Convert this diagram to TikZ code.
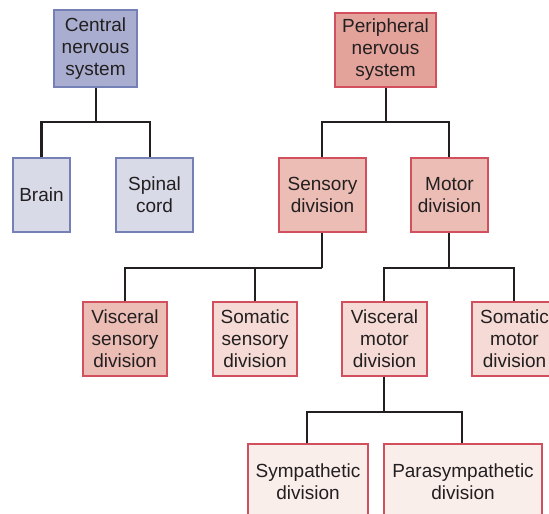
\documentclass[tikz,border=0pt]{standalone}
\usepackage{fontspec}
\setmainfont{Liberation Sans}
\definecolor{txt}{HTML}{231F20}
\definecolor{cnsfill}{HTML}{A9AED0}
\definecolor{cnsline}{HTML}{7580B6}
\definecolor{cnsfilltwo}{HTML}{D8DAE8}
\definecolor{pnsfill}{HTML}{E3A39B}
\definecolor{pnsline}{HTML}{D24F5E}
\definecolor{pfilltwo}{HTML}{EBBDB5}
\definecolor{pfillthree}{HTML}{F5DAD5}
\definecolor{pfillfour}{HTML}{FAEEEB}
\begin{document}
\begin{tikzpicture}[x=1pt,y=-1pt,
  box/.style={draw, line width=1.4pt, rectangle, inner sep=0pt, align=center,
    font=\fontsize{19}{22}\selectfont, text=txt},
  cbox/.style={box, draw=cnsline},
  pbox/.style={box, draw=pnsline},
  link/.style={draw=txt, line width=2.6pt, line cap=butt, line join=miter}]
\useasboundingbox (0,0) rectangle (549,514);
\begin{scope}
\clip (0,0) rectangle (549,514);
% CNS
\node[cbox, fill=cnsfill, minimum width=83pt, minimum height=77pt] (cns) at (95.5,48.5) {Central\\nervous\\system};
\node[cbox, fill=cnsfilltwo, minimum width=57pt, minimum height=74pt] (brain) at (41.5,195) {Brain};
\node[cbox, fill=cnsfilltwo, minimum width=77pt, minimum height=74pt] (spinal) at (154.5,195) {Spinal\\cord};
% PNS
\node[pbox, fill=pnsfill, minimum width=101pt, minimum height=74pt] (pns) at (385.5,50) {Peripheral\\nervous\\system};
\node[pbox, fill=pfilltwo, minimum width=87pt, minimum height=74pt] (sens) at (322.5,195) {Sensory\\division};
\node[pbox, fill=pfilltwo, minimum width=77pt, minimum height=74pt] (motor) at (449.5,195) {Motor\\division};
\node[pbox, fill=pfilltwo, minimum width=84pt, minimum height=74pt] (vsens) at (125,339) {Visceral\\sensory\\division};
\node[pbox, fill=pfillthree, minimum width=84pt, minimum height=74pt] (ssens) at (255,339) {Somatic\\sensory\\division};
\node[pbox, fill=pfillthree, minimum width=85pt, minimum height=74pt] (vmotor) at (384.5,339) {Visceral\\motor\\division};
\node[pbox, fill=pfillthree, minimum width=85pt, minimum height=74pt] (smotor) at (514.5,339) {Somatic\\motor\\division};
\node[pbox, fill=pfillfour, minimum width=120pt, minimum height=76pt] (symp) at (308,482) {Sympathetic\\division};
\node[pbox, fill=pfillfour, minimum width=158pt, minimum height=76pt] (para) at (463,482) {Parasympathetic\\division};
\end{scope}
% connectors
\coordinate (jc) at (96,122);
\draw[link] ([xshift=0.5pt]cns.south) -- (jc);
\draw[link] (brain.north) |- (jc) -| ([xshift=-4.5pt]spinal.north);
\coordinate (jp) at (386,122);
\draw[link] ([xshift=0.5pt]pns.south) -- (jp);
\draw[link] ([xshift=-0.5pt]sens.north) |- (jp) -| ([xshift=-0.5pt]motor.north);
\coordinate (js) at (322,268);
\draw[link] ([xshift=-0.5pt]sens.south) -- (js);
\draw[link] (vsens.north) |- (js);
\draw[link] (ssens.north) -- (ssens.north |- js);
\coordinate (jm) at (449,268);
\draw[link] ([xshift=-0.5pt]motor.south) -- (jm);
\draw[link] ([xshift=-0.5pt]vmotor.north) |- (jm) -| ([xshift=-0.5pt]smotor.north);
\coordinate (jv) at (384,412);
\draw[link] ([xshift=-0.5pt]vmotor.south) -- (jv);
\draw[link] ([xshift=-1pt]symp.north) |- (jv) -| ([xshift=-1pt]para.north);
\end{tikzpicture}
\end{document}
